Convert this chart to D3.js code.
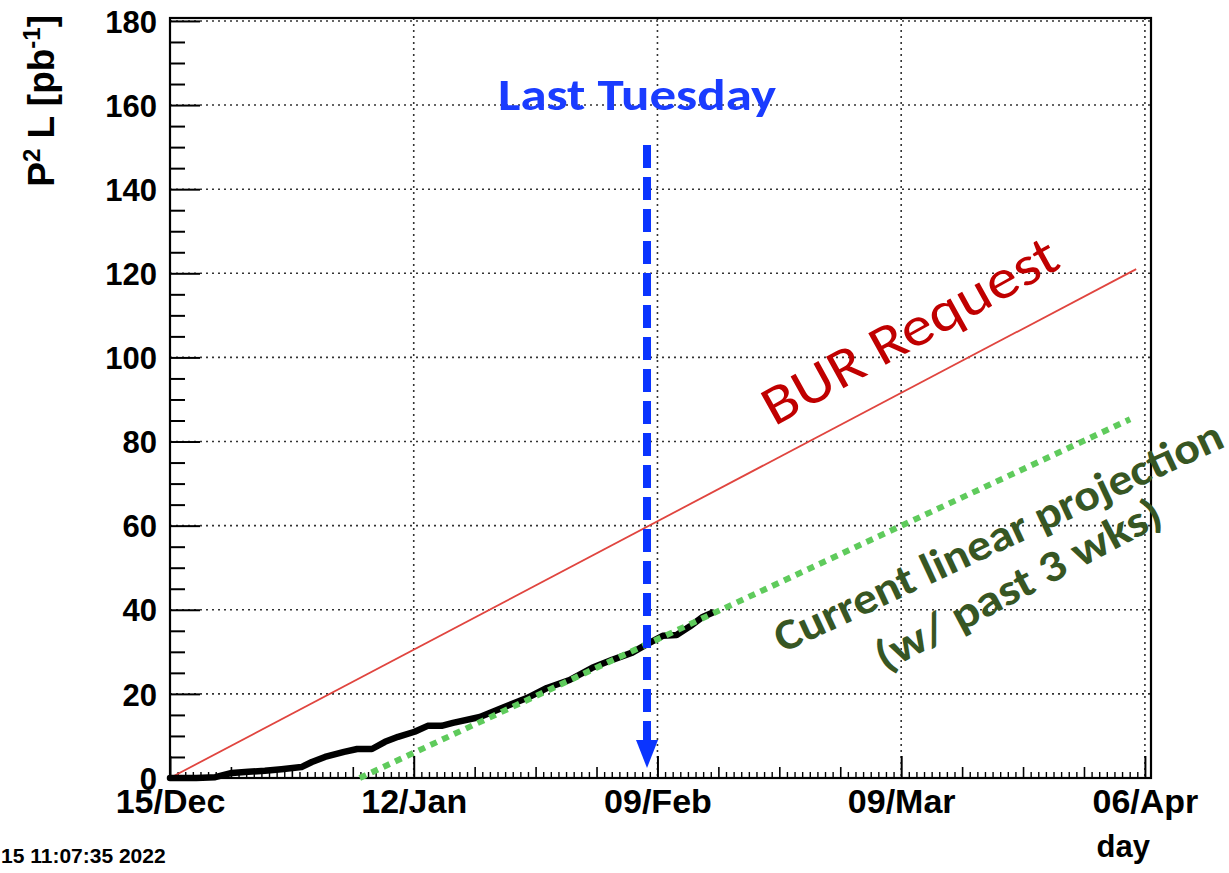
<!DOCTYPE html>
<html>
<head>
<meta charset="utf-8">
<script src="https://cdn.jsdelivr.net/npm/d3@7"></script>
<style>
  html, body { margin: 0; padding: 0; background: #fff; }
  svg { display: block; }
</style>
</head>
<body>
<svg id="chart" width="1229" height="873"></svg>
<script>
// ---------- DATA ----------
const startDate = Date.UTC(2021, 11, 15);           // 15/Dec/2021
const endDay = 112.7;                                 // axis end (days after start)
const xTickDays = [0, 28, 56, 84, 112];               // 15/Dec, 12/Jan, 09/Feb, 09/Mar, 06/Apr
const yTicks = [0, 20, 40, 60, 80, 100, 120, 140, 160, 180];

// delivered P^2 L (black curve), days since 15/Dec
const lumiDays   = [0, 3, 5.2, 7.1, 9, 10.9, 12.8, 15.1, 16.3, 17.8, 20, 21.5, 23.2, 24.7, 26.2, 28.1, 29.6, 31.2, 32.5, 35.6, 38.2, 41, 43.3, 45.9, 48.5, 50.8, 53.1, 54.7, 56.6, 58.2, 59.7, 61.2, 62.3];
const lumiValues = [0, 0, 0.2, 1.2, 1.5, 1.7, 2.1, 2.6, 3.8, 5, 6.2, 6.9, 6.9, 8.6, 9.8, 11, 12.4, 12.4, 13.1, 14.5, 16.7, 19, 21.4, 23.3, 26.2, 28.1, 29.8, 31.7, 33.8, 34, 36, 38.3, 39.3];

// BUR request (red line)
const burDays   = [0, 111];
const burValues = [0, 121];

// current linear projection (green dotted)
const projDays   = [21.8, 110.3];
const projValues = [0, 85.3];

// "Last Tuesday" marker
const lastTuesdayDay = 54.8;

// ---------- DRAW ----------
const dayMs = 86400000;
const toDate = d => new Date(startDate + d * dayMs);

const svg = d3.select("#chart");
const L = 170, R = 1151, T = 18, B = 778;

const x = d3.scaleUtc().domain([toDate(0), toDate(endDay)]).range([L, R]);
const y = d3.scaleLinear().domain([0, 180.7]).range([B, T]);

const axisFont = "'Liberation Sans', Arial, Helvetica, sans-serif";
const annFont = "Carlito, Lato, 'Open Sans', sans-serif";

// grid
const grid = svg.append("g");
grid.selectAll("line.gy").data(yTicks.filter(v => v > 0)).join("line")
  .attr("x1", L).attr("x2", R).attr("y1", d => y(d)).attr("y2", d => y(d))
  .attr("stroke", "#333").attr("stroke-width", 1.6).attr("stroke-dasharray", "2,4");
grid.selectAll("line.gx").data(xTickDays.filter(d => d > 0 && d < endDay)).join("line")
  .attr("y1", T).attr("y2", B).attr("x1", d => x(toDate(d))).attr("x2", d => x(toDate(d)))
  .attr("stroke", "#333").attr("stroke-width", 1.6).attr("stroke-dasharray", "2,4");

// y axis: major + minor (every 5)
const yMinor = d3.range(0, 181, 5).filter(v => v % 20 !== 0);
const yAxisMajor = d3.axisLeft(y).tickValues(yTicks).tickSize(-30).tickFormat(d3.format("d")).tickPadding(13);
const gy = svg.append("g").attr("transform", `translate(${L},0)`).call(yAxisMajor);
gy.select(".domain").remove();
gy.selectAll("line").attr("stroke", "#000").attr("stroke-width", 2);
gy.selectAll("text").attr("font-family", axisFont).attr("font-weight", "bold").attr("font-size", 31).attr("fill", "#000").attr("dy", "0.36em");
const gym = svg.append("g").attr("transform", `translate(${L},0)`)
  .call(d3.axisLeft(y).tickValues(yMinor).tickSize(-15).tickFormat(""));
gym.select(".domain").remove();
gym.selectAll("line").attr("stroke", "#000").attr("stroke-width", 2);

// x ticks: major (4 weeks), medium (weekly), minor (1/8 week)
const xMajor = xTickDays.map(toDate);
const xMed = d3.range(0, endDay, 7).filter(d => d % 28 !== 0).map(toDate);
const xMin = d3.range(0, endDay, 0.875).filter(d => Math.abs(d / 7 - Math.round(d / 7)) > 1e-6).map(toDate);
const fmt = d3.utcFormat("%d/%b");
const gx = svg.append("g").attr("transform", `translate(0,${B})`)
  .call(d3.axisBottom(x).tickValues(xMajor).tickSize(-22).tickFormat(fmt).tickPadding(28));
gx.select(".domain").remove();
gx.selectAll("line").attr("stroke", "#000").attr("stroke-width", 2);
gx.selectAll("text").attr("font-family", axisFont).attr("font-weight", "bold").attr("font-size", 34).attr("fill", "#000").attr("dy", "0.2em");
const gxm = svg.append("g").attr("transform", `translate(0,${B})`)
  .call(d3.axisBottom(x).tickValues(xMed).tickSize(-11).tickFormat(""));
gxm.select(".domain").remove();
gxm.selectAll("line").attr("stroke", "#000").attr("stroke-width", 1.6);
const gxn = svg.append("g").attr("transform", `translate(0,${B})`)
  .call(d3.axisBottom(x).tickValues(xMin).tickSize(-6).tickFormat(""));
gxn.select(".domain").remove();
gxn.selectAll("line").attr("stroke", "#000").attr("stroke-width", 1.4);

// frame
svg.append("rect").attr("x", L).attr("y", T).attr("width", R - L).attr("height", B - T)
  .attr("fill", "none").attr("stroke", "#000").attr("stroke-width", 2.2);

const line = d3.line().x(d => x(toDate(d[0]))).y(d => y(d[1]));

// BUR request line
svg.append("path").datum(d3.zip(burDays, burValues)).attr("d", line)
  .attr("fill", "none").attr("stroke", "#e0453f").attr("stroke-width", 1.8);

// delivered curve
svg.append("path").datum(d3.zip(lumiDays, lumiValues)).attr("d", line)
  .attr("fill", "none").attr("stroke", "#000").attr("stroke-width", 6.5)
  .attr("stroke-linejoin", "round").attr("stroke-linecap", "round");

// projection
svg.append("path").datum(d3.zip(projDays, projValues)).attr("d", line)
  .attr("fill", "none").attr("stroke", "#5fcb5c").attr("stroke-width", 6)
  .attr("stroke-dasharray", "7,6");

// blue dashed arrow
const ax = x(toDate(lastTuesdayDay));
svg.append("line").attr("x1", ax).attr("x2", ax).attr("y1", 145).attr("y2", 742)
  .attr("stroke", "#0a34ff").attr("stroke-width", 8).attr("stroke-dasharray", "23,9");
svg.append("path")
  .attr("d", `M${ax - 11},740 L${ax + 11},740 L${ax},768 Z`)
  .attr("fill", "#0a34ff");

// annotations
svg.append("text").attr("x", 637).attr("y", 110).attr("text-anchor", "middle")
  .attr("font-family", annFont).attr("font-weight", "bold").attr("font-size", 44)
  .attr("fill", "#1a3cff").attr("textLength", 278).attr("lengthAdjust", "spacingAndGlyphs")
  .text("Last Tuesday");

svg.append("text").attr("transform", "translate(912,335) rotate(-29)")
  .attr("text-anchor", "middle").attr("dominant-baseline", "middle")
  .attr("font-family", annFont).attr("font-size", 56).attr("fill", "#c00000")
  .attr("textLength", 330).attr("lengthAdjust", "spacingAndGlyphs")
  .text("BUR Request");

svg.append("text").attr("transform", "translate(1000,540) rotate(-25)")
  .attr("text-anchor", "middle").attr("dominant-baseline", "middle")
  .attr("font-family", annFont).attr("font-weight", "bold").attr("font-size", 44).attr("fill", "#375623")
  .attr("textLength", 490).attr("lengthAdjust", "spacingAndGlyphs")
  .text("Current linear projection");
svg.append("text").attr("transform", "translate(1020,588) rotate(-28)")
  .attr("text-anchor", "middle").attr("dominant-baseline", "middle")
  .attr("font-family", annFont).attr("font-weight", "bold").attr("font-size", 44).attr("fill", "#375623")
  .attr("textLength", 318).attr("lengthAdjust", "spacingAndGlyphs")
  .text("(w/ past 3 wks)");

// axis titles
const yt = svg.append("text").attr("transform", "translate(54,15) rotate(-90)")
  .attr("text-anchor", "end").attr("font-family", axisFont).attr("font-weight", "bold")
  .attr("font-size", 37).attr("fill", "#000");
yt.append("tspan").text("P");
yt.append("tspan").attr("font-size", 24).attr("dy", -14).text("2");
yt.append("tspan").attr("dy", 14).text(" L [pb");
yt.append("tspan").attr("font-size", 24).attr("dy", -14).text("-1");
yt.append("tspan").attr("dy", 14).text("]");

svg.append("text").attr("x", 1150).attr("y", 857).attr("text-anchor", "end")
  .attr("font-family", axisFont).attr("font-weight", "bold").attr("font-size", 31).attr("fill", "#000")
  .text("day");

svg.append("text").attr("x", 1).attr("y", 863).attr("text-anchor", "start")
  .attr("font-family", axisFont).attr("font-weight", "bold").attr("font-size", 21).attr("fill", "#000")
  .text("15 11:07:35 2022");
</script>
</body>
</html>
